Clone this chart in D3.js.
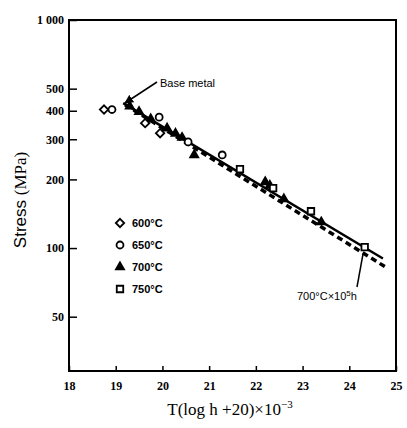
<!DOCTYPE html>
<html><head><meta charset="utf-8">
<script src="https://cdn.jsdelivr.net/npm/d3@7"></script>
<style>body{margin:0;background:#fff}svg{display:block}</style>
</head><body>
<svg id="c" width="407" height="428"></svg>
<script>
const xTicks = [18,19,20,21,22,23,24,25];
const yTicks = [50,100,200,300,400,500,1000];
const yTickLabels = ["50","100","200","300","400","500","1 000"];
const s600 = [[18.75,405],[19.63,353],[19.95,319]];
const s650 = [[18.92,405],[19.93,375],[20.55,292],[21.28,256]];
const s700 = [[19.3,418],[19.5,396],[19.75,368],[20.1,335],[20.28,318],[20.42,305],[20.68,256],[22.2,195],[22.3,188],[22.6,164],[23.4,130]];
const s750 = [[21.66,222],[22.37,183],[23.18,145],[24.33,101]];
const solidLine = [[19.16,432],[24.72,90]];
const dashedLine = [[19.2,425],[24.8,82]];
const legendLabels = ["600°C","650°C","700°C","750°C"];

const svg = d3.select("#c");
const x = d3.scaleLinear().domain([18,25]).range([69,396]);
const y = d3.scaleLog().domain([28.9,1000]).range([371,20]);
const serif = "Liberation Serif, DejaVu Serif, serif";
const sans = "Liberation Sans, Arial, sans-serif";

svg.append("rect").attr("x",69).attr("y",20).attr("width",327).attr("height",351)
  .attr("fill","none").attr("stroke","#000").attr("stroke-width",2);

const ax = svg.append("g").attr("transform","translate(0,371)")
  .call(d3.axisBottom(x).tickValues(xTicks).tickSize(-5).tickPadding(10).tickFormat(d3.format("d")));
ax.attr("font-family",serif);
ax.select(".domain").remove();
ax.selectAll("line").attr("stroke","#000").attr("stroke-width",1.5);
ax.selectAll("text").attr("font-family",serif).attr("font-weight","bold").attr("font-size",12).attr("fill","#000");

const ay = svg.append("g").attr("transform","translate(69,0)")
  .call(d3.axisLeft(y).tickValues(yTicks).tickSize(-8).tickPadding(5).tickFormat((d,i)=>yTickLabels[i]));
ay.attr("font-family",serif);
ay.select(".domain").remove();
ay.selectAll("line").attr("stroke","#000").attr("stroke-width",1.5);
ay.selectAll("text").attr("font-family",serif).attr("font-weight","bold").attr("font-size",12).attr("fill","#000");

const line = d3.line().x(d=>x(d[0])).y(d=>y(d[1]));
svg.append("path").attr("d",line(solidLine)).attr("fill","none").attr("stroke","#000").attr("stroke-width",2.5);
svg.append("path").attr("d",line(dashedLine)).attr("fill","none").attr("stroke","#000").attr("stroke-width",3.5).attr("stroke-dasharray","6,4");

const sym = {
  d: d3.symbol().type(d3.symbolDiamond2).size(45),
  c: d3.symbol().type(d3.symbolCircle).size(38),
  t: d3.symbol().type(d3.symbolTriangle).size(28),
  s: d3.symbol().type(d3.symbolSquare).size(42)
};
function pts(data, s, filled){
  svg.append("g").selectAll("path").data(data).join("path")
    .attr("transform",d=>`translate(${x(d[0])},${y(d[1])})`)
    .attr("d",sym[s]).attr("fill",filled?"#000":"#fff").attr("stroke","#000").attr("stroke-width",1.8);
}
pts(s700,"t",true);
pts(s600,"d",false);
pts(s650,"c",false);
pts(s750,"s",false);

const lg = svg.append("g");
["d","c","t","s"].forEach((s,i)=>{
  const yy = 223 + i*22;
  lg.append("path").attr("transform",`translate(120,${yy})`).attr("d",sym[s])
    .attr("fill",s==="t"?"#000":"#fff").attr("stroke","#000").attr("stroke-width",1.8);
  lg.append("text").attr("x",132).attr("y",yy+4).attr("font-family",sans).attr("font-size",11)
    .attr("font-weight","bold").text(legendLabels[i]);
});

svg.append("defs").append("marker").attr("id","ah").attr("viewBox","0 0 10 10").attr("refX",9).attr("refY",5)
  .attr("markerWidth",6).attr("markerHeight",6).attr("orient","auto")
  .append("path").attr("d","M0,0L10,5L0,10z").attr("fill","#000");
svg.append("line").attr("x1",157).attr("y1",82).attr("x2",125).attr("y2",103)
  .attr("stroke","#000").attr("stroke-width",1.5).attr("marker-end","url(#ah)");
svg.append("text").attr("x",160).attr("y",87).attr("font-family",sans).attr("font-size",11).text("Base metal");

svg.append("line").attr("x1",357).attr("y1",287).attr("x2",363).attr("y2",254)
  .attr("stroke","#000").attr("stroke-width",1.5);
const t2 = svg.append("text").attr("x",297).attr("y",300).attr("font-family",sans).attr("font-size",11);
t2.append("tspan").text("700°C×10");
t2.append("tspan").attr("dy",-4).attr("font-size",8).text("5");
t2.append("tspan").attr("dy",4).text("h");

const yl = svg.append("text").attr("transform","translate(26,200) rotate(-90)").attr("text-anchor","middle")
  .attr("font-size",17);
yl.append("tspan").attr("font-family",sans).text("Stress ");
yl.append("tspan").attr("font-family",serif).text("(MPa)");

const xl = svg.append("text").attr("x",230).attr("y",415).attr("text-anchor","middle")
  .attr("font-family",serif).attr("font-size",17);
xl.append("tspan").text("T(log h +20)×10");
xl.append("tspan").attr("dy",-7).attr("font-size",11).text("−3");
</script>
</body></html>
